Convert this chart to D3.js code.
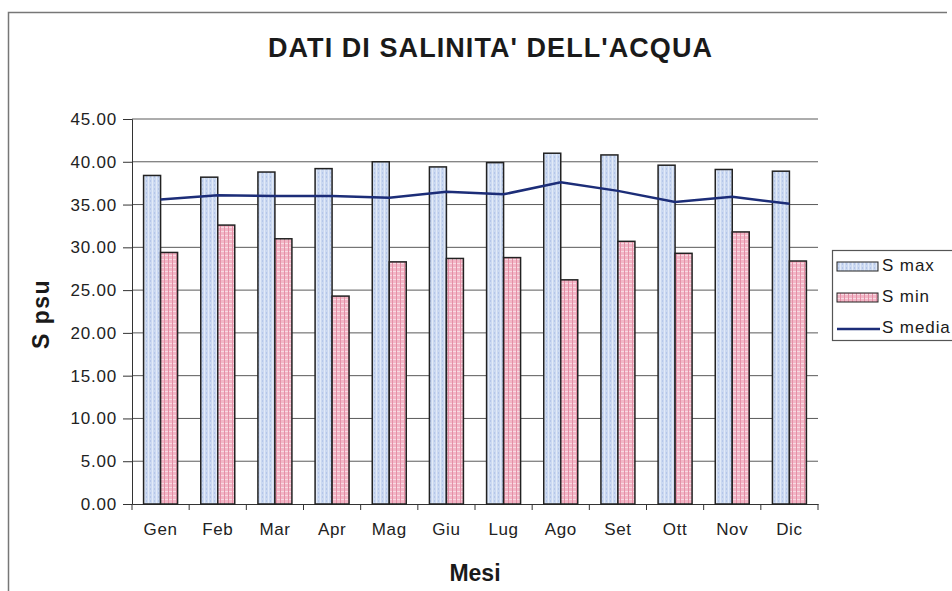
<!DOCTYPE html>
<html>
<head>
<meta charset="utf-8">
<script src="https://cdn.jsdelivr.net/npm/d3@7"></script>
<style>
  body { margin: 0; background: #fff; }
  text { font-family: "Liberation Sans", Arial, sans-serif; }
</style>
</head>
<body>
<svg id="chart" width="952" height="591"></svg>
<script>
const months = ['Gen', 'Feb', 'Mar', 'Apr', 'Mag', 'Giu', 'Lug', 'Ago', 'Set', 'Ott', 'Nov', 'Dic'];
const sMax = [38.4, 38.2, 38.8, 39.2, 40.0, 39.4, 39.9, 41.0, 40.8, 39.6, 39.1, 38.9];
const sMin = [29.4, 32.6, 31.0, 24.3, 28.3, 28.7, 28.8, 26.2, 30.7, 29.3, 31.8, 28.4];
const sMedia = [35.6, 36.1, 36.0, 36.0, 35.8, 36.5, 36.2, 37.6, 36.6, 35.3, 35.9, 35.1];
const yTicks = [0, 5, 10, 15, 20, 25, 30, 35, 40, 45];

const margin = {left: 132, right: 134, top: 119, bottom: 87};
const width = 952 - margin.left - margin.right;
const height = 591 - margin.top - margin.bottom;

const svg = d3.select('#chart');

// patterns for the bars
const defs = svg.append('defs');
const pBlue = defs.append('pattern')
  .attr('id', 'pBlue').attr('patternUnits', 'userSpaceOnUse')
  .attr('width', 4).attr('height', 4);
pBlue.append('rect').attr('width', 4).attr('height', 4).attr('fill', '#cbd9f1');
pBlue.append('rect').attr('x', 0).attr('y', 0).attr('width', 1).attr('height', 4).attr('fill', '#e2eaf8');
pBlue.append('rect').attr('x', 2).attr('y', 1).attr('width', 1).attr('height', 2).attr('fill', '#b5c6e9');

const pPink = defs.append('pattern')
  .attr('id', 'pPink').attr('patternUnits', 'userSpaceOnUse')
  .attr('width', 4).attr('height', 4);
pPink.append('rect').attr('width', 4).attr('height', 4).attr('fill', '#f2b6c6');
pPink.append('rect').attr('x', 0).attr('y', 0).attr('width', 4).attr('height', 1).attr('fill', '#f8dbe3');
pPink.append('rect').attr('x', 0).attr('y', 0).attr('width', 1).attr('height', 4).attr('fill', '#e48fa6');

// outer frame
svg.append('path')
  .attr('d', 'M8.5,591 V12.5 H947')
  .attr('fill', 'none').attr('stroke', '#777').attr('stroke-width', 1.5);

svg.append('text')
  .attr('x', 490).attr('y', 57)
  .attr('text-anchor', 'middle')
  .attr('font-size', 27).attr('font-weight', 'bold')
  .attr('textLength', 444).attr('lengthAdjust', 'spacing')
  .attr('fill', '#1a1a1a')
  .text("DATI DI SALINITA' DELL'ACQUA");

const g = svg.append('g')
  .attr('transform', `translate(${margin.left}, ${margin.top})`);

const xScale = d3.scaleBand().domain(months).range([0, width]);
const yScale = d3.scaleLinear().domain([0, 45]).range([height, 0]);
const barW = 17;

// gridlines
g.append('g')
  .selectAll('line')
  .data(yTicks.filter(d => d > 0))
  .enter()
  .append('line')
  .attr('x1', 0).attr('x2', width)
  .attr('y1', d => yScale(d)).attr('y2', d => yScale(d))
  .attr('stroke', '#5a5a5a').attr('stroke-width', 1);

const yAxis = d3.axisLeft(yScale).tickValues(yTicks).tickFormat(d3.format('.2f')).tickSize(9).tickPadding(6);
const yG = g.append('g').call(yAxis);
yG.select('.domain').attr('stroke', '#333');
yG.selectAll('.tick line').attr('stroke', '#333');
yG.selectAll('text').attr('font-size', 17).attr('fill', '#222').attr('letter-spacing', 0.8)
  .style('font-family', '"Liberation Sans", Arial, sans-serif');

const xAxis = d3.axisBottom(xScale).tickSize(0).tickPadding(19);
const xG = g.append('g').attr('transform', `translate(0, ${height})`).call(xAxis);
xG.select('.domain').attr('stroke', '#333');
xG.selectAll('text').attr('font-size', 17).attr('fill', '#222').attr('letter-spacing', 0.6)
  .style('font-family', '"Liberation Sans", Arial, sans-serif');

// tick marks on category boundaries
g.append('g')
  .selectAll('line')
  .data(months.concat(['end']))
  .enter()
  .append('line')
  .attr('x1', (d, i) => i * xScale.bandwidth())
  .attr('x2', (d, i) => i * xScale.bandwidth())
  .attr('y1', height).attr('y2', height + 6)
  .attr('stroke', '#333');

// bars
g.append('g')
  .selectAll('rect')
  .data(sMax)
  .enter()
  .append('rect')
  .attr('x', (d, i) => xScale(months[i]) + xScale.bandwidth() / 2 - barW)
  .attr('y', d => yScale(d))
  .attr('width', barW)
  .attr('height', d => height - yScale(d))
  .attr('fill', 'url(#pBlue)')
  .attr('stroke', '#222').attr('stroke-width', 1.5);

g.append('g')
  .selectAll('rect')
  .data(sMin)
  .enter()
  .append('rect')
  .attr('x', (d, i) => xScale(months[i]) + xScale.bandwidth() / 2)
  .attr('y', d => yScale(d))
  .attr('width', barW)
  .attr('height', d => height - yScale(d))
  .attr('fill', 'url(#pPink)')
  .attr('stroke', '#222').attr('stroke-width', 1.5);

// mean line
const line = d3.line()
  .x((d, i) => xScale(months[i]) + xScale.bandwidth() / 2)
  .y(d => yScale(d));

g.append('path')
  .datum(sMedia)
  .attr('d', line)
  .attr('fill', 'none')
  .attr('stroke', '#1c2d78')
  .attr('stroke-width', 2.5);

// axis titles
svg.append('text')
  .attr('transform', 'translate(49, 314) rotate(-90)')
  .attr('text-anchor', 'middle')
  .attr('font-size', 23).attr('font-weight', 'bold').attr('letter-spacing', 1.5)
  .attr('fill', '#1a1a1a')
  .text('S psu');

svg.append('text')
  .attr('x', 475).attr('y', 581)
  .attr('text-anchor', 'middle')
  .attr('font-size', 23).attr('font-weight', 'bold')
  .attr('fill', '#1a1a1a')
  .text('Mesi');

// legend
const legend = svg.append('g').attr('transform', 'translate(832, 250)');
legend.append('rect')
  .attr('x', 0.5).attr('y', 0.5).attr('width', 140).attr('height', 90)
  .attr('fill', '#fff').attr('stroke', '#555').attr('stroke-width', 1.2);

const legendItems = ['S max', 'S min', 'S media'];
const legendFill = ['url(#pBlue)', 'url(#pPink)', null];

legendItems.forEach((name, i) => {
  const yy = 21 + i * 31;
  if (legendFill[i]) {
    legend.append('rect')
      .attr('x', 5).attr('y', yy - 9).attr('width', 41).attr('height', 9)
      .attr('fill', legendFill[i]).attr('stroke', '#222').attr('stroke-width', 1);
  } else {
    legend.append('line')
      .attr('x1', 5).attr('x2', 48).attr('y1', yy - 4).attr('y2', yy - 4)
      .attr('stroke', '#1c2d78').attr('stroke-width', 2.5);
  }
  legend.append('text')
    .attr('x', 50).attr('y', yy)
    .attr('font-size', 17).attr('letter-spacing', 0.9)
    .attr('fill', '#1a1a1a')
    .text(name);
});
</script>
</body>
</html>
